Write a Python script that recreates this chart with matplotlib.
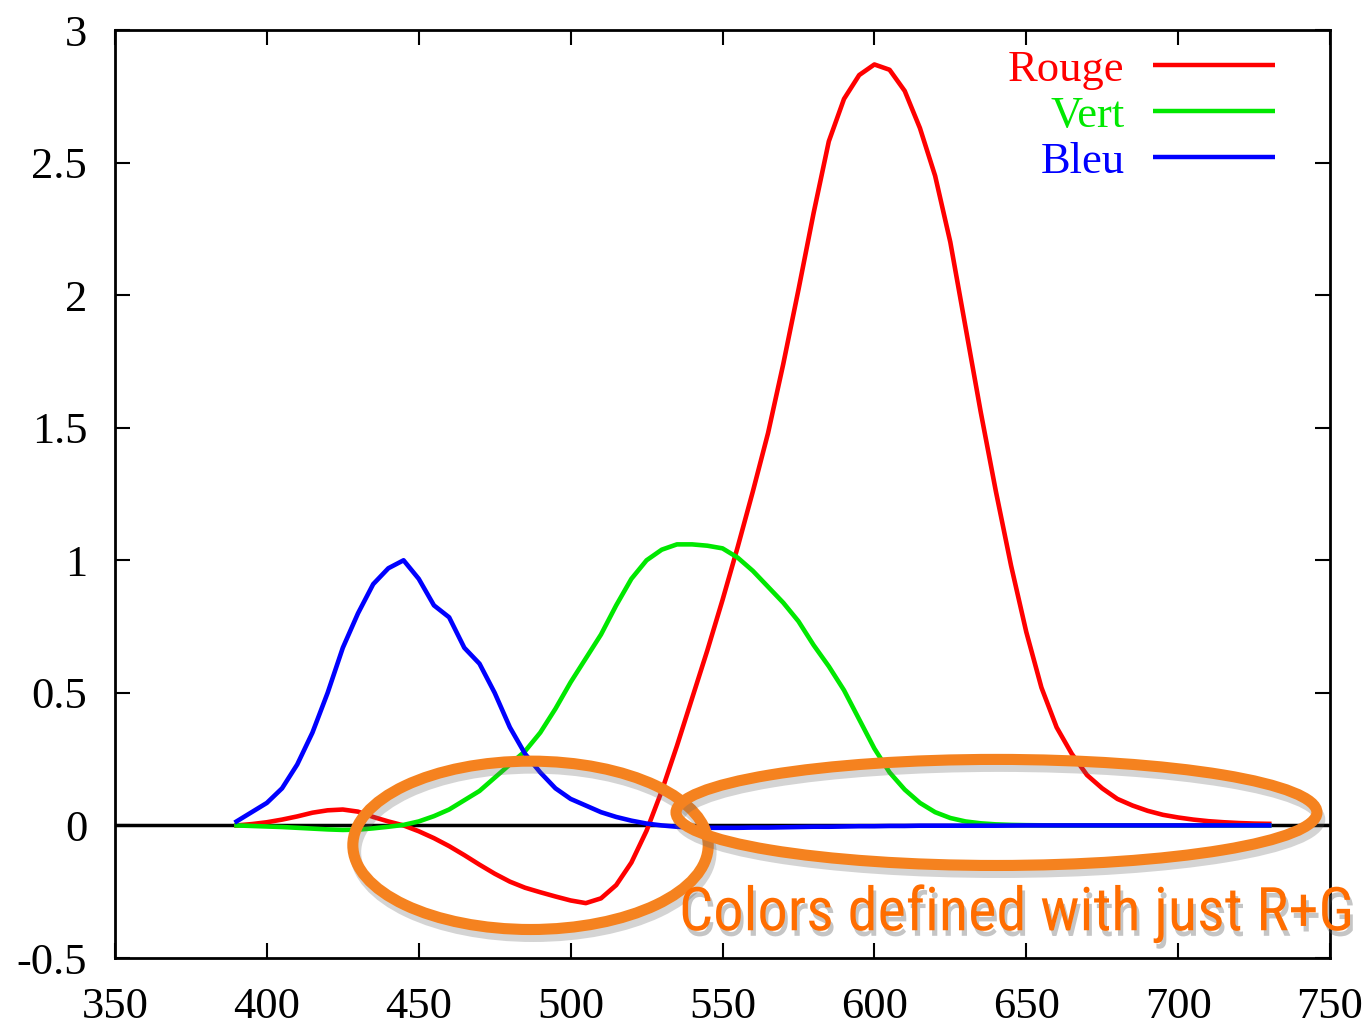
import matplotlib
matplotlib.use("Agg")
import matplotlib.pyplot as plt
from matplotlib.patches import Ellipse
import matplotlib.patheffects as pe

wavelength = [390, 395, 400, 405, 410, 415, 420, 425, 430, 435, 440, 445, 450, 455, 460,
              465, 470, 475, 480, 485, 490, 495, 500, 505, 510, 515, 520, 525, 530, 535,
              540, 545, 550, 555, 560, 565, 570, 575, 580, 585, 590, 595, 600, 605, 610,
              615, 620, 625, 630, 635, 640, 645, 650, 655, 660, 665, 670, 675, 680, 685,
              690, 695, 700, 705, 710, 715, 720, 725, 730]

rouge = [0.0, 0.005, 0.012, 0.022, 0.034, 0.048, 0.057, 0.06, 0.052, 0.032, 0.015, 0.0,
         -0.022, -0.048, -0.078, -0.112, -0.148, -0.182, -0.212, -0.235, -0.252, -0.268,
         -0.283, -0.293, -0.275, -0.225, -0.14, -0.02, 0.13, 0.30, 0.48, 0.66, 0.85, 1.05,
         1.26, 1.48, 1.74, 2.02, 2.31, 2.58, 2.74, 2.83, 2.87, 2.85, 2.77, 2.63, 2.45, 2.20,
         1.88, 1.56, 1.26, 0.98, 0.73, 0.52, 0.37, 0.27, 0.19, 0.14, 0.10, 0.075, 0.055,
         0.04, 0.03, 0.022, 0.016, 0.012, 0.009, 0.007, 0.006]

vert = [0.0, -0.002, -0.004, -0.006, -0.009, -0.012, -0.015, -0.017, -0.016, -0.011, -0.005,
        0.002, 0.015, 0.035, 0.06, 0.095, 0.13, 0.18, 0.23, 0.28, 0.35, 0.44, 0.54, 0.63,
        0.72, 0.83, 0.93, 1.0, 1.04, 1.06, 1.06, 1.055, 1.045, 1.01, 0.96, 0.90, 0.84, 0.77,
        0.68, 0.60, 0.51, 0.40, 0.29, 0.20, 0.135, 0.085, 0.05, 0.028, 0.015, 0.008, 0.004,
        0.002, 0.001, 0.0005, 0.0, 0.0, 0.0, 0.0, 0.0, 0.0, 0.0, 0.0, 0.0, 0.0, 0.0, 0.0,
        0.0, 0.0, 0.0]

bleu = [0.015, 0.05, 0.085, 0.14, 0.23, 0.35, 0.50, 0.67, 0.80, 0.91, 0.97, 1.0, 0.93, 0.83,
        0.785, 0.67, 0.61, 0.50, 0.37, 0.27, 0.20, 0.14, 0.10, 0.075, 0.05, 0.032, 0.018,
        0.007, 0.0, -0.005, -0.008, -0.009, -0.009, -0.009, -0.008, -0.008, -0.007, -0.006,
        -0.005, -0.005, -0.004, -0.003, -0.003, -0.002, -0.002, -0.001, -0.001, -0.001,
        -0.001, -0.001, -0.001, -0.0005, 0.0, 0.0, 0.0, 0.0, 0.0, 0.0, 0.0, 0.0, 0.0, 0.0,
        0.0, 0.0, 0.0, 0.0, 0.0, 0.0, 0.0]

series_labels = ["Rouge", "Vert", "Bleu"]
series_colors = ["#ff0000", "#00e800", "#0000ff"]
xticks = [350, 400, 450, 500, 550, 600, 650, 700, 750]
yticks = [-0.5, 0, 0.5, 1, 1.5, 2, 2.5, 3]
ytick_labels = ["-0.5", "0", "0.5", "1", "1.5", "2", "2.5", "3"]
note = "Colors defined with just R+G"
orange = "#f5821f"
text_orange = "#ff6d00"

fig = plt.figure(figsize=(13.68, 10.26), dpi=100)
fig.patch.set_facecolor("white")
ax = fig.add_axes([115 / 1368, 1 - 958 / 1026, (1330 - 115) / 1368, (958 - 30) / 1026])

ax.axhline(0, color="black", lw=2.5, zorder=1)
for ys, lab, col in zip([rouge, vert, bleu], series_labels, series_colors):
    ax.plot(wavelength, ys, color=col, lw=3.3, label=lab, zorder=2, solid_joinstyle="round")

ax.set_xlim(350, 750)
ax.set_ylim(-0.5, 3)
ax.set_xticks(xticks)
ax.set_yticks(yticks)
ax.set_yticklabels(ytick_labels)
serif = "Liberation Serif"
for lbl in ax.get_xticklabels() + ax.get_yticklabels():
    lbl.set_fontfamily(serif)
    lbl.set_fontsize(32)
ax.tick_params(direction="in", length=11, width=1.5, top=True, right=True,
               labeltop=False, labelright=False)
ax.tick_params(axis="x", pad=21)
ax.tick_params(axis="y", pad=20)
for s in ax.spines.values():
    s.set_linewidth(2)

# custom legend: text right-aligned, line sample to the right
leg_y = [0.962, 0.9125, 0.863]
for lab, col, yy in zip(series_labels, series_colors, leg_y):
    ax.text(0.831, yy - 0.005, lab, transform=ax.transAxes, ha="right", va="center",
            color=col, fontsize=32, fontfamily=serif)
    ax.plot([0.854, 0.955], [yy, yy], transform=ax.transAxes, color=col, lw=3.2,
            solid_capstyle="butt")

shadow = [pe.SimpleLineShadow(offset=(2, -5), shadow_color="0.4", alpha=0.28), pe.Normal()]
e1 = Ellipse((486.8, -0.075), 117, 0.635, fill=False, edgecolor=orange, lw=8,
             zorder=5, clip_on=False)
e2 = Ellipse((640.2, 0.049), 211, 0.40, fill=False, edgecolor=orange, lw=8,
             zorder=5, clip_on=False)
for e in (e1, e2):
    e.set_path_effects(shadow)
    ax.add_patch(e)

txt = fig.text(679 / 1368, 1 - 914 / 1026, note, color=text_orange, fontsize=43.5,
               fontfamily=["Roboto Condensed", "Roboto"], ha="left", va="center",
               zorder=6)
txt.set_path_effects([pe.withSimplePatchShadow(offset=(2, -4), shadow_rgbFace="0.35", alpha=0.35)])

fig.savefig("out.png", dpi=100, facecolor="white")
